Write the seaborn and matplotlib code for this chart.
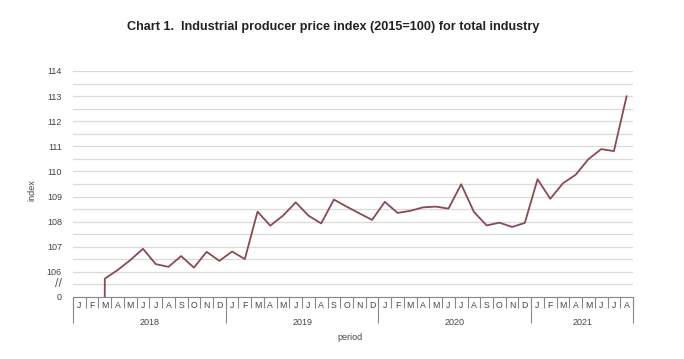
import numpy as np
import pandas as pd
import matplotlib
matplotlib.use("Agg")
import matplotlib.pyplot as plt
import seaborn as sns

# -----------------------------
# Data
# -----------------------------
years = ["2018", "2019", "2020", "2021"]
months_per_year = [12, 12, 12, 8]
month_letters = ["J", "F", "M", "A", "M", "J", "J", "A", "S", "O", "N", "D"]

ppi_2018 = [0, 0, 105.73, 106.07, 106.47, 106.92, 106.31, 106.2, 106.63, 106.17, 106.8, 106.44]
ppi_2019 = [106.81, 106.51, 108.4, 107.84, 108.24, 108.77, 108.24, 107.93, 108.88, 108.6, 108.33, 108.07]
ppi_2020 = [108.79, 108.35, 108.43, 108.57, 108.6, 108.52, 109.49, 108.39, 107.85, 107.96, 107.79, 107.95]
ppi_2021 = [109.69, 108.91, 109.53, 109.87, 110.49, 110.89, 110.81, 113.0]

values = ppi_2018 + ppi_2019 + ppi_2020 + ppi_2021
month_labels = [month_letters[m] for n in months_per_year for m in range(n)]
df = pd.DataFrame({"period": np.arange(len(values)), "index": values})

# -----------------------------
# Figure
# -----------------------------
sns.set_theme(style="white")
plt.rcParams["font.family"] = ["Liberation Sans", "DejaVu Sans"]

fig = plt.figure(figsize=(6.84, 3.59), dpi=100)
ax = fig.add_axes([73 / 684, 1 - 297 / 359, 560 / 684, 226 / 359])

sns.lineplot(data=df, x="period", y="index", ax=ax, color="#8a4a50", linewidth=1.3)

n = len(values)
ax.set_xlim(-0.5, n - 0.5)
ax.set_ylim(105, 114)

# y axis: 105 shown as "0" (broken axis)
yt = list(range(105, 115))
ax.set_yticks(yt)
ax.set_yticklabels(["0"] + [str(v) for v in yt[1:]])
ax.set_yticks(np.arange(105.5, 114, 1.0), minor=True)
ax.grid(axis="y", which="both", color="#d9d9d9", linewidth=0.9)
ax.tick_params(axis="y", which="both", length=0, pad=8, labelsize=6.5, labelcolor="#444444")

# x axis: month letters with small separators
ax.set_xticks(np.arange(n))
ax.set_xticklabels(month_labels)
ax.set_xticks(np.arange(n + 1) - 0.5, minor=True)
ax.tick_params(axis="x", which="major", length=0, pad=3, labelsize=6.3, labelcolor="#444444")
ax.tick_params(axis="x", which="minor", length=8, width=0.8, color="#888888", direction="out", bottom=True)

for s in ["top", "right", "left"]:
    ax.spines[s].set_visible(False)
ax.spines["bottom"].set_color("#888888")
ax.spines["bottom"].set_linewidth(0.8)

# year separators and year labels
bounds = np.concatenate([[0], np.cumsum(months_per_year)]) - 0.5
centers = (bounds[:-1] + bounds[1:]) / 2
sec = ax.secondary_xaxis("bottom")
sec.set_xticks(bounds)
sec.set_xticklabels([""] * len(bounds))
sec.set_xticks(centers, minor=True)
sec.set_xticklabels(years, minor=True)
sec.tick_params(axis="x", which="major", length=19, width=0.8, color="#888888")
sec.tick_params(axis="x", which="minor", length=0, pad=15, labelsize=6.5, labelcolor="#444444")
sec.spines["bottom"].set_visible(False)

# break mark on the y axis
ax.text(-0.02, 105.5, "//", transform=ax.get_yaxis_transform(), ha="right", va="center",
        fontsize=9, color="#555555")

ax.set_xlabel("")
ax.set_ylabel("")
fig.text(350 / 684, 1 - 338 / 359, "period", ha="center", va="center", fontsize=6.5, color="#444444")
fig.text(32 / 684, 1 - 190 / 359, "index", ha="center", va="center", rotation=90, fontsize=6.5,
         color="#444444")
fig.text(333 / 684, 1 - 27 / 359, "Chart 1.  Industrial producer price index (2015=100) for total industry",
         ha="center", va="center", fontsize=9.1, fontweight="bold", color="#222222")

fig.savefig("out.png", dpi=100, facecolor="white")
